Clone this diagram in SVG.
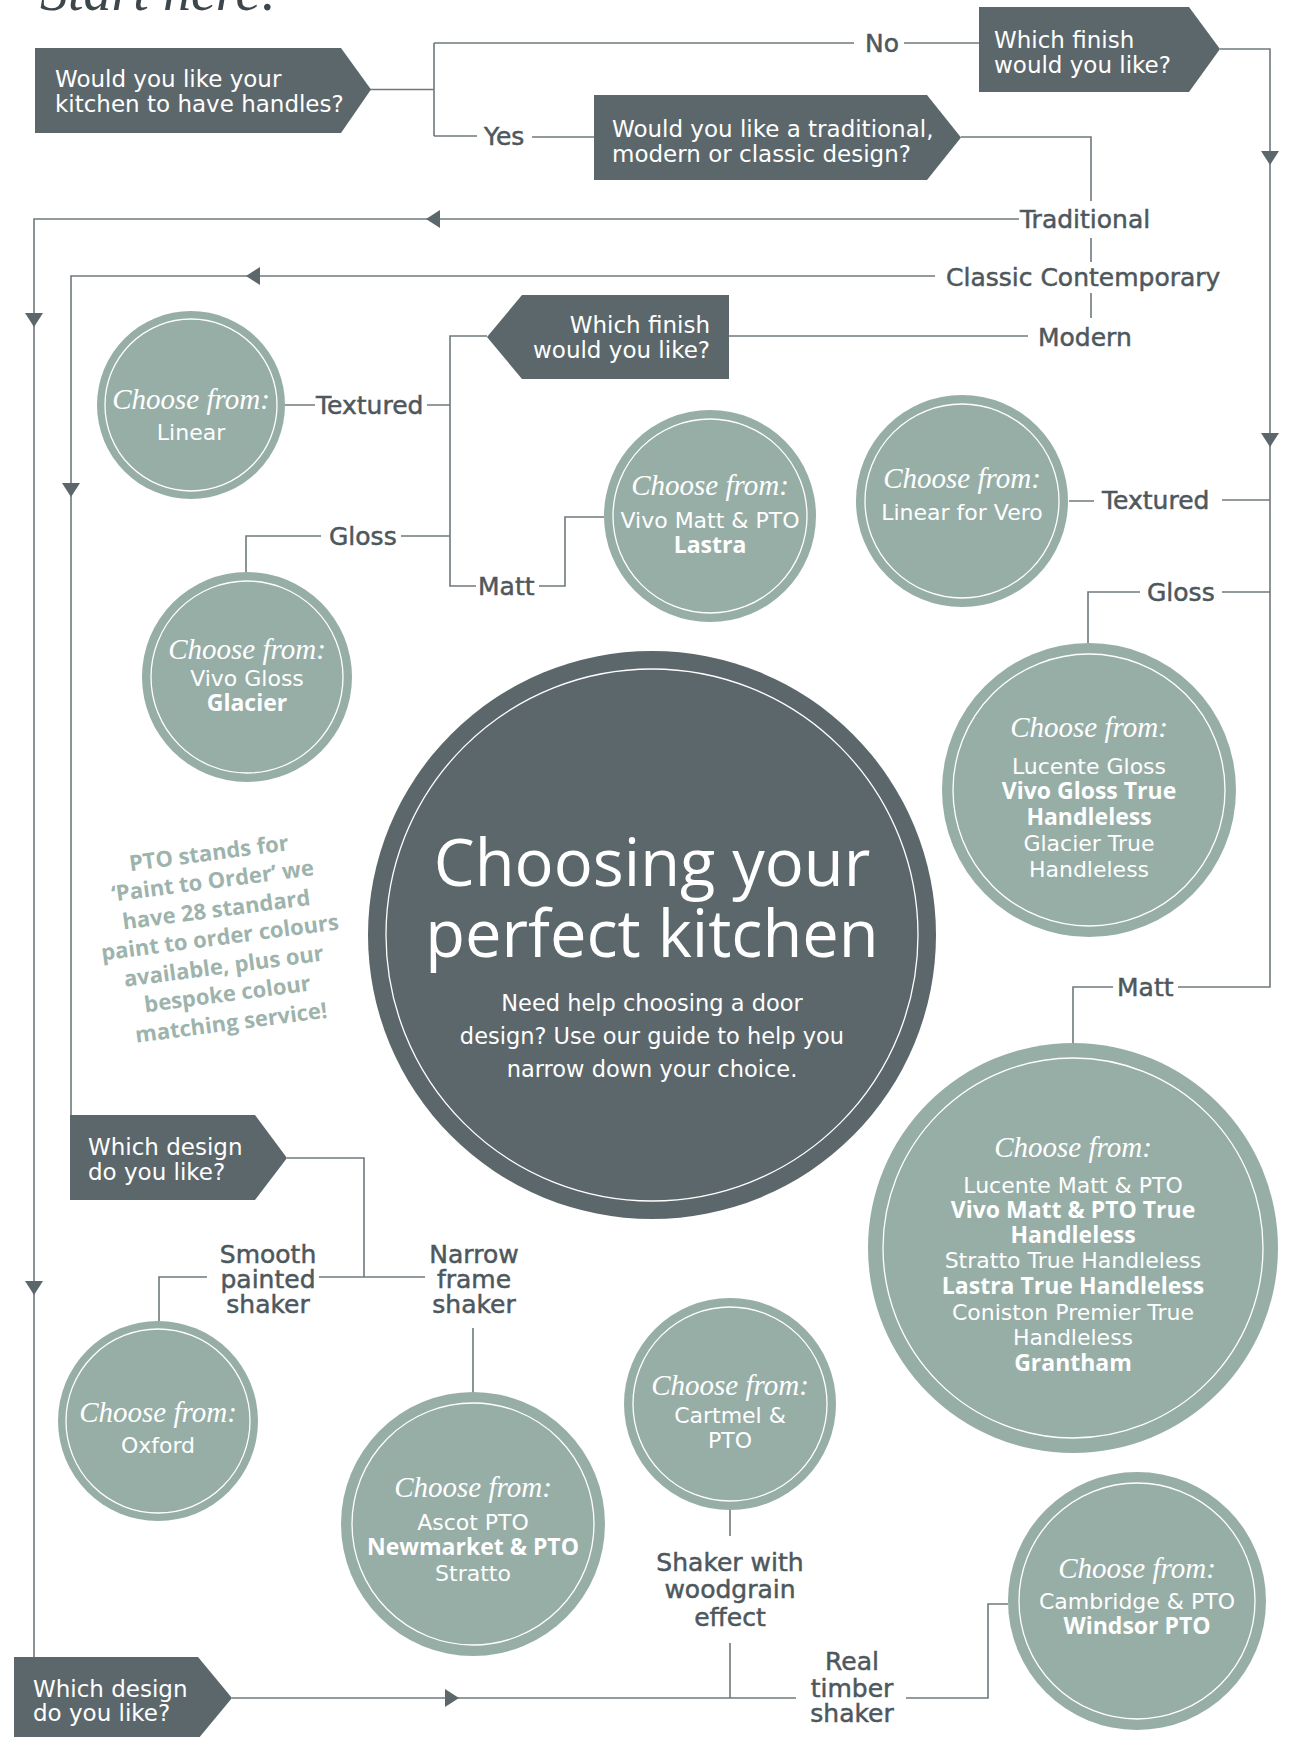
<svg xmlns="http://www.w3.org/2000/svg" width="1292" height="1737" viewBox="0 0 1292 1737">
<style>
.box{fill:#5c676b}
.circ{fill:#97aea7}
.ring{fill:none;stroke:#ffffff;stroke-width:1.3}
.bt{font-family:"DejaVu Sans",sans-serif;font-size:23px;fill:#ffffff}
.ct{font-family:"DejaVu Sans",sans-serif;font-size:22px;fill:#ffffff;text-anchor:middle}
.cb{font-family:"Open Sans",sans-serif;font-weight:700;font-size:23px;fill:#ffffff;text-anchor:middle}
.sc{font-family:"Liberation Serif",serif;font-style:italic;font-size:29px;fill:#ffffff;text-anchor:middle}
.lb{font-family:"DejaVu Sans",sans-serif;font-size:25px;fill:#4e585c;stroke:#4e585c;stroke-width:0.5}
.lm{text-anchor:middle}
.ln{fill:none;stroke:#6f797d;stroke-width:1.6}
.ar{fill:#5c676b;stroke:none}
.pto{font-family:"Open Sans",sans-serif;font-weight:700;font-size:22px;fill:#9db3ac;text-anchor:middle}
.title{font-family:"Open Sans",sans-serif;font-weight:500;font-size:65px;fill:#ffffff;text-anchor:middle}
.sub{font-family:"DejaVu Sans",sans-serif;font-size:22.5px;fill:#ffffff;text-anchor:middle}
</style>
<defs>
<path id="arw" d="M-9,-7 L9,-7 L0,7 Z"/>
</defs>
<rect width="1292" height="1737" fill="#ffffff"/>

<text x="40" y="10" font-family="Liberation Serif, serif" font-style="italic" font-size="56" fill="#3d474b">Start here:</text>

<g id="connectors">
<path class="ln" d="M370,89.5 H434 M434,43 V136 M434,43 H854 M904,43 H979 M434,136 H477 M532,137 H594"/>
<path class="ln" d="M1220,49 H1270 V987 H1178 M1222,500 H1270 M1069,501 H1094 M1140,592 H1088 V643 M1222,592 H1270 M1113,987 H1073 V1043"/>
<path class="ln" d="M961,137 H1091 V201 M1091,238 V262 M1091,293 V318"/>
<path class="ln" d="M1019,219 H34 V1657 M935,276 H71 V1115 M729,336 H1028"/>
<path class="ln" d="M487,336 H450 V586 H476 M539,586 H565 V517 H604 M450,405 H427 M315,405 H285 M450,536 H401 M321,536 H246 V572"/>
<path class="ln" d="M287,1158 H364 V1277 M319,1277 H425 M207,1277 H159 V1321 M473,1328 V1392"/>
<path class="ln" d="M730,1510 V1536 M730,1643 V1698 M232,1698 H796 M906,1698 H988 V1604 H1008"/>
<use href="#arw" class="ar" transform="translate(1270,158)"/>
<use href="#arw" class="ar" transform="translate(1270,440)"/>
<use href="#arw" class="ar" transform="translate(433,219) rotate(90)"/>
<use href="#arw" class="ar" transform="translate(253,276) rotate(90)"/>
<use href="#arw" class="ar" transform="translate(34,320)"/>
<use href="#arw" class="ar" transform="translate(71,490)"/>
<use href="#arw" class="ar" transform="translate(34,1288)"/>
<use href="#arw" class="ar" transform="translate(452,1698) rotate(-90)"/>
</g>

<g id="labels">
<text class="lb" x="865" y="52">No</text>
<text class="lb" x="484" y="145">Yes</text>
<text class="lb" x="1020" y="228">Traditional</text>
<text class="lb" x="946" y="286">Classic Contemporary</text>
<text class="lb" x="1038" y="346">Modern</text>
<text class="lb" x="316" y="414">Textured</text>
<text class="lb" x="329" y="545">Gloss</text>
<text class="lb" x="478" y="595">Matt</text>
<text class="lb" x="1102" y="509">Textured</text>
<text class="lb" x="1147" y="601">Gloss</text>
<text class="lb" x="1117" y="996">Matt</text>
<text class="lb lm" x="268" y="1263">Smooth</text>
<text class="lb lm" x="268" y="1288">painted</text>
<text class="lb lm" x="268" y="1313">shaker</text>
<text class="lb lm" x="474" y="1263">Narrow</text>
<text class="lb lm" x="474" y="1288">frame</text>
<text class="lb lm" x="474" y="1313">shaker</text>
<text class="lb lm" x="730" y="1571">Shaker with</text>
<text class="lb lm" x="730" y="1598">woodgrain</text>
<text class="lb lm" x="730" y="1626">effect</text>
<text class="lb lm" x="852" y="1670">Real</text>
<text class="lb lm" x="852" y="1697">timber</text>
<text class="lb lm" x="852" y="1722">shaker</text>
</g>

<g id="q-handles">
<polygon class="box" points="35,48 341,48 371,89.5 341,133 35,133"/>
<text class="bt" x="55" y="87">Would you like your</text>
<text class="bt" x="55" y="112">kitchen to have handles?</text>
</g>

<g id="q-finish-nohandles">
<polygon class="box" points="979,7 1189,7 1220,49 1189,92 979,92"/>
<text class="bt" x="994" y="48">Which finish</text>
<text class="bt" x="994" y="73">would you like?</text>
</g>

<g id="q-design-style">
<polygon class="box" points="594,95 927,95 961,137.5 927,180 594,180"/>
<text class="bt" x="612" y="137">Would you like a traditional,</text>
<text class="bt" x="612" y="162">modern or classic design?</text>
</g>

<g id="q-finish-modern">
<polygon class="box" points="487,337 522,295 729,295 729,379 522,379"/>
<text class="bt" x="710" y="333" text-anchor="end">Which finish</text>
<text class="bt" x="710" y="358" text-anchor="end">would you like?</text>
</g>

<g id="q-design-classic">
<polygon class="box" points="70,1115 255,1115 287,1158 255,1200 70,1200"/>
<text class="bt" x="88" y="1155">Which design</text>
<text class="bt" x="88" y="1180">do you like?</text>
</g>

<g id="q-design-traditional">
<polygon class="box" points="14,1657 198,1657 232,1698 198,1739 14,1739"/>
<text class="bt" x="33" y="1697">Which design</text>
<text class="bt" x="33" y="1721">do you like?</text>
</g>

<g id="c-linear">
<circle class="circ" cx="191" cy="405" r="94"/>
<circle class="ring" cx="191" cy="405" r="86"/>
<text class="sc" x="191" y="409">Choose from:</text>
<text class="ct" x="191" y="440">Linear</text>
</g>

<g id="c-glacier">
<circle class="circ" cx="247" cy="677" r="105"/>
<circle class="ring" cx="247" cy="677" r="96"/>
<text class="sc" x="247" y="659">Choose from:</text>
<text class="ct" x="247" y="686">Vivo Gloss</text>
<text class="cb" x="247" y="711">Glacier</text>
</g>

<g id="c-lastra">
<circle class="circ" cx="710" cy="516" r="106"/>
<circle class="ring" cx="710" cy="516" r="97"/>
<text class="sc" x="710" y="495">Choose from:</text>
<text class="ct" x="710" y="528">Vivo Matt &amp; PTO</text>
<text class="cb" x="710" y="553">Lastra</text>
</g>

<g id="c-vero">
<circle class="circ" cx="962" cy="501" r="106"/>
<circle class="ring" cx="962" cy="501" r="97"/>
<text class="sc" x="962" y="488">Choose from:</text>
<text class="ct" x="962" y="520">Linear for Vero</text>
</g>

<g id="c-lucente-gloss">
<circle class="circ" cx="1089" cy="790" r="147"/>
<circle class="ring" cx="1089" cy="790" r="136"/>
<text class="sc" x="1089" y="737">Choose from:</text>
<text class="ct" x="1089" y="774">Lucente Gloss</text>
<text class="cb" x="1089" y="799">Vivo Gloss True</text>
<text class="cb" x="1089" y="825">Handleless</text>
<text class="ct" x="1089" y="851">Glacier True</text>
<text class="ct" x="1089" y="877">Handleless</text>
</g>

<g id="center-title">
<circle cx="652" cy="935" r="284" fill="#5c676b"/>
<circle class="ring" cx="652" cy="935" r="266"/>
<text class="title" x="652" y="886">Choosing your</text>
<text class="title" x="652" y="957">perfect kitchen</text>
<text class="sub" x="652" y="1011">Need help choosing a door</text>
<text class="sub" x="652" y="1044">design? Use our guide to help you</text>
<text class="sub" x="652" y="1077">narrow down your choice.</text>
</g>

<g id="pto-note" transform="translate(220,938) rotate(-7.5)">
<text class="pto" x="0" y="-78">PTO stands for</text>
<text class="pto" x="0" y="-50">‘Paint to Order’ we</text>
<text class="pto" x="0" y="-21">have 28 standard</text>
<text class="pto" x="0" y="7">paint to order colours</text>
<text class="pto" x="0" y="36">available, plus our</text>
<text class="pto" x="0" y="64">bespoke colour</text>
<text class="pto" x="0" y="93">matching service!</text>
</g>

<g id="c-lucente-matt">
<circle class="circ" cx="1073" cy="1248" r="205"/>
<circle class="ring" cx="1073" cy="1248" r="190"/>
<text class="sc" x="1073" y="1157">Choose from:</text>
<text class="ct" x="1073" y="1193">Lucente Matt &amp; PTO</text>
<text class="cb" x="1073" y="1218">Vivo Matt &amp; PTO True</text>
<text class="cb" x="1073" y="1243">Handleless</text>
<text class="ct" x="1073" y="1268">Stratto True Handleless</text>
<text class="cb" x="1073" y="1294">Lastra True Handleless</text>
<text class="ct" x="1073" y="1320">Coniston Premier True</text>
<text class="ct" x="1073" y="1345">Handleless</text>
<text class="cb" x="1073" y="1371">Grantham</text>
</g>

<g id="c-oxford">
<circle class="circ" cx="158" cy="1421" r="100"/>
<circle class="ring" cx="158" cy="1421" r="92"/>
<text class="sc" x="158" y="1422">Choose from:</text>
<text class="ct" x="158" y="1453">Oxford</text>
</g>

<g id="c-ascot">
<circle class="circ" cx="473" cy="1524" r="132"/>
<circle class="ring" cx="473" cy="1524" r="121"/>
<text class="sc" x="473" y="1497">Choose from:</text>
<text class="ct" x="473" y="1530">Ascot PTO</text>
<text class="cb" x="473" y="1555">Newmarket &amp; PTO</text>
<text class="ct" x="473" y="1581">Stratto</text>
</g>

<g id="c-cartmel">
<circle class="circ" cx="730" cy="1404" r="106"/>
<circle class="ring" cx="730" cy="1404" r="97"/>
<text class="sc" x="730" y="1395">Choose from:</text>
<text class="ct" x="730" y="1423">Cartmel &amp;</text>
<text class="ct" x="730" y="1448">PTO</text>
</g>

<g id="c-cambridge">
<circle class="circ" cx="1137" cy="1601" r="129"/>
<circle class="ring" cx="1137" cy="1601" r="118"/>
<text class="sc" x="1137" y="1578">Choose from:</text>
<text class="ct" x="1137" y="1609">Cambridge &amp; PTO</text>
<text class="cb" x="1137" y="1634">Windsor PTO</text>
</g>
</svg>
